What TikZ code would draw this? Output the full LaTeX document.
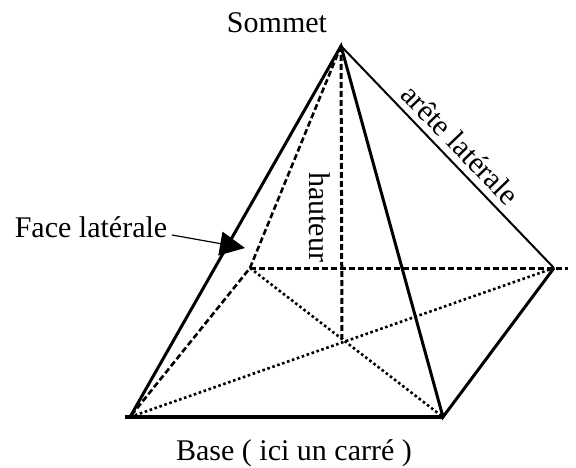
\documentclass[tikz,border=0pt]{standalone}
\usepackage{fontspec}
\setmainfont{Liberation Serif}
\usetikzlibrary{arrows.meta}
\tikzset{
	arete/.style={line width=3pt},
	fine/.style={line width=2pt},
	cache/.style={line width=3pt,dash pattern=on 6pt off 3pt},
	diag/.style={line width=2.6pt,dash pattern=on 2.6pt off 2.6pt},
	etiquette/.style={inner sep=0pt,font=\fontsize{30}{32}\selectfont}
}
\begin{document}
\begin{tikzpicture}[x=1pt,y=-1pt]
	\useasboundingbox (0,0) rectangle (576,468);
	\coordinate (S) at (341,46);
	\coordinate (A) at (130,417);
	\coordinate (B) at (443,417);
	\coordinate (C) at (554,268);
	\coordinate (D) at (250,268);
	\coordinate (O) at (342,339);
	\coordinate (Afin) at (125,417);
	\coordinate (Cfin) at (568,268);
	\coordinate (Fdepart) at (172,235);
	\coordinate (Fpointe) at (245,248);
	\node[etiquette] (sommet) at (277,23) {Sommet};
	\node[etiquette] (face) at (91,227) {Face latérale};
	\node[etiquette] (base) at (294,453) {Base ( ici un carré )};
	\node[etiquette,rotate=-90] (hauteur) at (319.5,217) {hauteur};
	\node[etiquette,rotate=-46] (laterale) at (460.5,144.5) {arête latérale};
	% pointilles de la base
	\draw[diag] (A)--(C);
	\draw[diag] (D)--(B);
	% aretes cachees
	\draw[cache,line width=2.6pt] (S)--(D)--(A);
	\draw[cache] (S)--(O);
	\draw[cache] (D)--(Cfin);
	% aretes vues
	\draw[arete] (A)--(S)--(B)--(C);
	\draw[fine] (S)--(C);
	\draw[line width=4pt] (Afin)--(B);
	\draw[line width=1.2pt,-{Triangle[length=25pt,width=24pt]}] (Fdepart)--(Fpointe);
\end{tikzpicture}
\end{document}
